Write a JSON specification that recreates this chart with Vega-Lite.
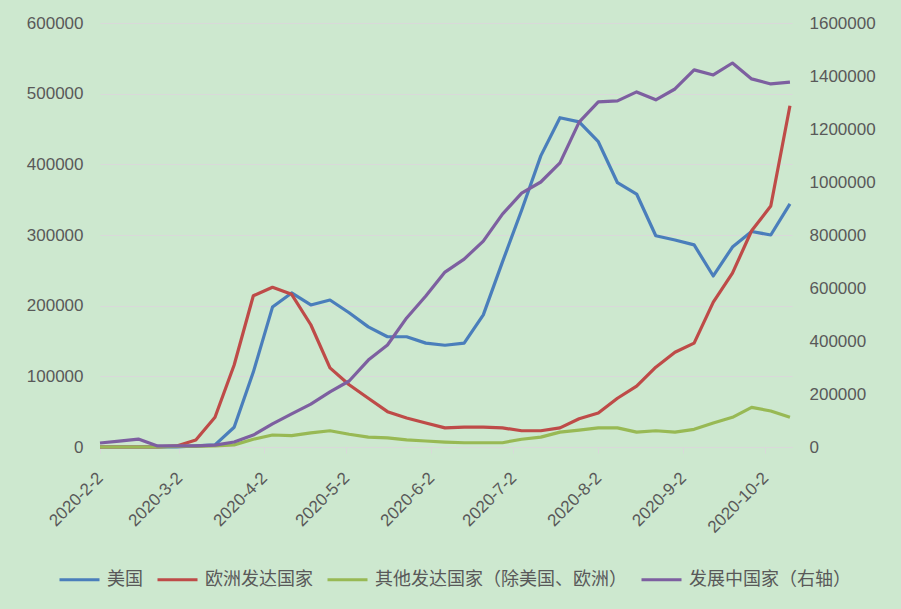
{
  "$schema": "https://vega.github.io/schema/vega-lite/v6.json",
  "width": 692,
  "height": 424,
  "autosize": {"type": "none"},
  "padding": {"left": 100, "top": 23, "right": 109, "bottom": 162},
  "background": "#cde8cf",
  "config": {
    "view": {"stroke": null},
    "font": "Liberation Sans",
    "axis": {"labelColor": "#595959", "labelFontSize": 17, "labelFont": "Liberation Sans"}
  },
  "data": {
    "values": [
      {"date": "2020/02/02", "us": 10, "eu": 0, "other": 0, "dev": 15000},
      {"date": "2020/02/09", "us": 10, "eu": 0, "other": 0, "dev": 22000},
      {"date": "2020/02/16", "us": 20, "eu": 0, "other": 0, "dev": 30000},
      {"date": "2020/02/23", "us": 50, "eu": 100, "other": 200, "dev": 4000},
      {"date": "2020/03/01", "us": 300, "eu": 1500, "other": 1000, "dev": 4000},
      {"date": "2020/03/08", "us": 1500, "eu": 10000, "other": 1000, "dev": 4000},
      {"date": "2020/03/15", "us": 3000, "eu": 42000, "other": 1500, "dev": 7000},
      {"date": "2020/03/22", "us": 28000, "eu": 116000, "other": 3000, "dev": 19000},
      {"date": "2020/03/29", "us": 106000, "eu": 214000, "other": 11000, "dev": 45000},
      {"date": "2020/04/05", "us": 198000, "eu": 226000, "other": 17000, "dev": 87000},
      {"date": "2020/04/12", "us": 218000, "eu": 216000, "other": 16000, "dev": 125000},
      {"date": "2020/04/19", "us": 201000, "eu": 173000, "other": 20000, "dev": 162000},
      {"date": "2020/04/26", "us": 208000, "eu": 112000, "other": 23000, "dev": 208000},
      {"date": "2020/05/03", "us": 190000, "eu": 88000, "other": 18000, "dev": 249000},
      {"date": "2020/05/10", "us": 170000, "eu": 69000, "other": 14000, "dev": 328000},
      {"date": "2020/05/17", "us": 156000, "eu": 50000, "other": 13000, "dev": 385000},
      {"date": "2020/05/24", "us": 156000, "eu": 41000, "other": 10000, "dev": 487000},
      {"date": "2020/05/31", "us": 147000, "eu": 34000, "other": 8500, "dev": 570000},
      {"date": "2020/06/07", "us": 144000, "eu": 27000, "other": 7000, "dev": 660000},
      {"date": "2020/06/14", "us": 147000, "eu": 28000, "other": 6000, "dev": 709000},
      {"date": "2020/06/21", "us": 187000, "eu": 28000, "other": 6000, "dev": 777000},
      {"date": "2020/06/28", "us": 262000, "eu": 27000, "other": 6000, "dev": 879000},
      {"date": "2020/07/05", "us": 335000, "eu": 23000, "other": 11000, "dev": 958000},
      {"date": "2020/07/12", "us": 412000, "eu": 23000, "other": 14000, "dev": 1000000},
      {"date": "2020/07/19", "us": 466000, "eu": 27000, "other": 21000, "dev": 1072000},
      {"date": "2020/07/26", "us": 460000, "eu": 40000, "other": 24000, "dev": 1226000},
      {"date": "2020/08/02", "us": 432000, "eu": 48000, "other": 27000, "dev": 1302000},
      {"date": "2020/08/09", "us": 374000, "eu": 69000, "other": 27000, "dev": 1306000},
      {"date": "2020/08/16", "us": 358000, "eu": 86000, "other": 21000, "dev": 1340000},
      {"date": "2020/08/23", "us": 299000, "eu": 113000, "other": 23000, "dev": 1310000},
      {"date": "2020/08/30", "us": 293000, "eu": 134000, "other": 21000, "dev": 1351000},
      {"date": "2020/09/06", "us": 286000, "eu": 147000, "other": 25000, "dev": 1423000},
      {"date": "2020/09/13", "us": 242000, "eu": 205000, "other": 34000, "dev": 1404000},
      {"date": "2020/09/20", "us": 283000, "eu": 246000, "other": 42000, "dev": 1449000},
      {"date": "2020/09/27", "us": 305000, "eu": 306000, "other": 56000, "dev": 1389000},
      {"date": "2020/10/04", "us": 300000, "eu": 341000, "other": 51000, "dev": 1370000},
      {"date": "2020/10/11", "us": 344000, "eu": 483000, "other": 42000, "dev": 1377000}
    ]
  },
  "transform": [
    {"fold": ["us", "eu", "other", "dev"], "as": ["key", "value"]},
    {"lookup": "key", "from": {"data": {"values": [
      {"key": "us", "series": "美国"},
      {"key": "eu", "series": "欧洲发达国家"},
      {"key": "other", "series": "其他发达国家（除美国、欧洲）"},
      {"key": "dev", "series": "发展中国家（右轴）"}
    ]}, "key": "key", "fields": ["series"]}}
  ],
  "encoding": {
    "x": {
      "field": "date",
      "type": "temporal",
      "scale": {"domain": [{"year": 2020, "month": 2, "date": 2}, {"year": 2020, "month": 10, "date": 11, "hours": 18}]},
      "axis": {
        "title": null,
        "values": [
          {"year": 2020, "month": 2, "date": 2},
          {"year": 2020, "month": 3, "date": 2},
          {"year": 2020, "month": 4, "date": 2},
          {"year": 2020, "month": 5, "date": 2},
          {"year": 2020, "month": 6, "date": 2},
          {"year": 2020, "month": 7, "date": 2},
          {"year": 2020, "month": 8, "date": 2},
          {"year": 2020, "month": 9, "date": 2},
          {"year": 2020, "month": 10, "date": 2}
        ],
        "format": "%Y-%-m-%-d",
        "labelAngle": -45,
        "labelAlign": "right",
        "labelBaseline": "middle",
        "labelPadding": 22,
        "labelDx": 4,
        "grid": false,
        "domainColor": "#d9d9d9",
        "domainWidth": 1,
        "tickColor": "#d9d9d9",
        "tickSize": 6,
        "labelOverlap": false
      }
    },
    "color": {
      "field": "series",
      "type": "nominal",
      "scale": {
        "domain": ["美国", "欧洲发达国家", "其他发达国家（除美国、欧洲）", "发展中国家（右轴）"],
        "range": ["#4a7ebb", "#be4b48", "#98b954", "#7d5fa0"]
      },
      "legend": {
        "title": null,
        "orient": "none",
        "direction": "horizontal",
        "legendX": -42,
        "legendY": 535,
        "symbolType": "stroke",
        "symbolSize": 1600,
        "symbolStrokeWidth": 3,
        "labelFont": "Noto Sans CJK SC",
        "labelFontSize": 18,
        "labelColor": "#595959",
        "labelOffset": 6,
        "columnPadding": 8,
        "labelLimit": 400
      }
    }
  },
  "layer": [
    {
      "transform": [{"filter": "datum.key !== 'dev'"}],
      "mark": {"type": "line", "strokeWidth": 3.2, "strokeJoin": "round"},
      "encoding": {
        "y": {
          "field": "value",
          "type": "quantitative",
          "scale": {"domain": [0, 600000], "nice": false},
          "axis": {
            "title": null,
            "orient": "left",
            "values": [0, 100000, 200000, 300000, 400000, 500000, 600000],
            "format": "d",
            "domain": false,
            "ticks": false,
            "labelPadding": 17,
            "gridColor": "#d9d9d9",
            "gridWidth": 1
          }
        }
      }
    },
    {
      "transform": [{"filter": "datum.key === 'dev'"}],
      "mark": {"type": "line", "strokeWidth": 3.2, "strokeJoin": "round"},
      "encoding": {
        "y": {
          "field": "value",
          "type": "quantitative",
          "scale": {"domain": [0, 1600000], "nice": false},
          "axis": {
            "title": null,
            "orient": "right",
            "values": [0, 200000, 400000, 600000, 800000, 1000000, 1200000, 1400000, 1600000],
            "format": "d",
            "domain": false,
            "ticks": false,
            "grid": false,
            "labelPadding": 17
          }
        }
      }
    }
  ],
  "resolve": {"scale": {"y": "independent"}}
}
